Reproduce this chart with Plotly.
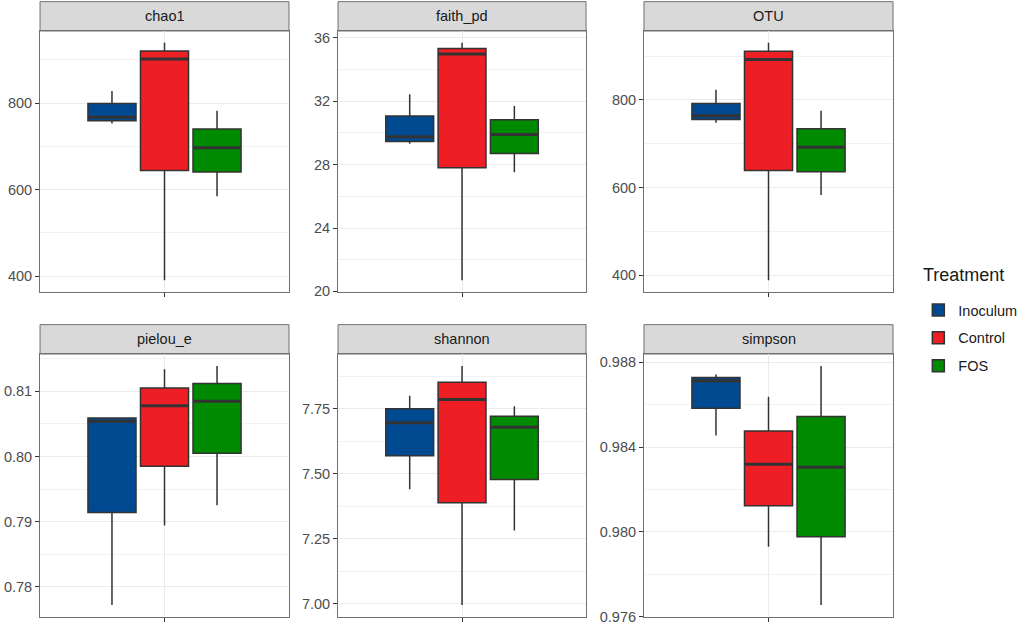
import plotly.graph_objects as go
from plotly.subplots import make_subplots

metrics = ["chao1", "faith_pd", "OTU", "pielou_e", "shannon", "simpson"]
treatments = ["Inoculum", "Control", "FOS"]
colors = ["#014a91", "#ee1f24", "#008a00"]

# five-number summaries read off the boxes, one row per treatment:
# [lower whisker, Q1, median, Q3, upper whisker]
chao1 = [[753, 759, 767, 799, 828],
         [391, 644, 902, 920, 939],
         [585, 641, 697, 740, 782]]
faith_pd = [[29.32, 29.46, 29.76, 31.08, 32.44],
            [20.71, 27.81, 34.98, 35.33, 35.69],
            [27.52, 28.71, 29.90, 30.83, 31.70]]
otu = [[748, 755, 764, 792, 823],
       [389, 639, 892, 911, 930],
       [583, 636, 692, 734, 775]]
pielou_e = [[0.7772, 0.7914, 0.8054, 0.8059, 0.8060],
            [0.7894, 0.7985, 0.8078, 0.8105, 0.8134],
            [0.7925, 0.8005, 0.8085, 0.8112, 0.8139]]
shannon = [[7.441, 7.569, 7.696, 7.750, 7.800],
           [6.995, 7.389, 7.786, 7.852, 7.915],
           [7.282, 7.478, 7.679, 7.721, 7.760]]
simpson = [[0.98455, 0.98583, 0.98713, 0.98729, 0.98743],
           [0.97929, 0.98123, 0.98319, 0.98476, 0.98637],
           [0.97654, 0.97976, 0.98305, 0.98544, 0.98783]]

summaries = [chao1, faith_pd, otu, pielou_e, shannon, simpson]

# tick settings per panel (major step, label format)
tick_steps = [200, 4, 200, 0.01, 0.25, 0.004]
tick_formats = ["d", "d", "d", ".2f", ".2f", ".3f"]

fig = make_subplots(rows=2, cols=3)

# panel positions in paper coordinates
col_domains = [[0.0391, 0.2822], [0.3301, 0.5723], [0.6289, 0.8721]]
row_domains = [[0.5328, 0.9504], [0.0128, 0.4336]]
strip_h = 0.047

for m, name in enumerate(metrics):
    r, c = divmod(m, 3)
    stats = summaries[m]
    for t, tr in enumerate(treatments):
        lo, q1, med, q3, hi = stats[t]
        fig.add_trace(go.Box(
            x=["all"], lowerfence=[lo], q1=[q1], median=[med], q3=[q3],
            upperfence=[hi], name=tr, legendgroup=tr, offsetgroup=tr,
            showlegend=(m == 0),
            fillcolor=colors[t], line=dict(color="#333333", width=1.5),
            whiskerwidth=0, boxpoints=False, hoverinfo="skip",
        ), row=r + 1, col=c + 1)
        # thicker median bar, ggplot style (flat box in the same slot)
        fig.add_trace(go.Box(
            x=["all"], lowerfence=[med], q1=[med], median=[med], q3=[med],
            upperfence=[med], name=tr, legendgroup=tr, offsetgroup=tr,
            showlegend=False, fillcolor="rgba(0,0,0,0)",
            line=dict(color="#333333", width=3),
            whiskerwidth=0, boxpoints=False, hoverinfo="skip",
        ), row=r + 1, col=c + 1)

    vals = [v for row in stats for v in row]
    span = max(vals) - min(vals)
    yr = [min(vals) - 0.05 * span, max(vals) + 0.05 * span]
    idx = "" if m == 0 else str(m + 1)
    fig.update_layout({
        "xaxis" + idx: dict(
            domain=col_domains[c], range=[-0.5, 0.5], showticklabels=False,
            ticks="outside", ticklen=4, tickcolor="#333333",
            showgrid=True, gridcolor="#ebebeb", gridwidth=1.1,
            showline=True, mirror=True, linecolor="#707070", linewidth=1,
            zeroline=False, fixedrange=True, automargin=False,
        ),
        "yaxis" + idx: dict(
            domain=row_domains[r], range=yr, dtick=tick_steps[m], tick0=0,
            tickformat=tick_formats[m], ticks="outside", ticklen=4,
            tickcolor="#333333", tickfont=dict(size=14.5, color="#4d4d4d"),
            showgrid=True, gridcolor="#ebebeb", gridwidth=1.1,
            minor=dict(dtick=tick_steps[m] / 2, tick0=0, showgrid=True,
                       gridcolor="#f2f2f2", gridwidth=0.7, ticks=""),
            showline=True, mirror=True, linecolor="#707070", linewidth=1,
            zeroline=False, fixedrange=True, automargin=False,
        ),
    })

    x0, x1 = col_domains[c]
    y1 = row_domains[r][1]
    fig.add_shape(type="rect", xref="paper", yref="paper",
                  x0=x0, x1=x1, y0=y1, y1=y1 + strip_h,
                  fillcolor="#d9d9d9", line=dict(color="#707070", width=1),
                  layer="below")
    fig.add_annotation(xref="paper", yref="paper", x=(x0 + x1) / 2,
                       y=y1 + strip_h / 2, text=name, showarrow=False,
                       xanchor="center", yanchor="middle",
                       font=dict(size=14.5, color="#1a1a1a"))

# legend title drawn separately so the gap to the keys matches
fig.add_annotation(xref="paper", yref="paper", x=0.8994, y=1 - 275 / 625,
                   text="Treatment", showarrow=False, xanchor="left",
                   yanchor="middle", font=dict(size=18, color="#1a1a1a"))

fig.update_layout(
    width=1024, height=625, autosize=False,
    margin=dict(l=0, r=0, t=0, b=0, autoexpand=False),
    paper_bgcolor="white", plot_bgcolor="white",
    font=dict(family="Liberation Sans, Arial, sans-serif", color="#1a1a1a"),
    boxmode="group", boxgap=0.367, boxgroupgap=0.085,
    legend=dict(
        x=0.8968, y=1 - 294 / 625, xanchor="left", yanchor="top",
        font=dict(size=14.5, color="#1a1a1a"), tracegroupgap=6,
        bgcolor="rgba(0,0,0,0)",
    ),
)

fig.write_html("out.html",
               config={"displayModeBar": False, "responsive": False},
               post_script="document.body.style.margin='0';"
                           "document.body.style.overflow='hidden';")
